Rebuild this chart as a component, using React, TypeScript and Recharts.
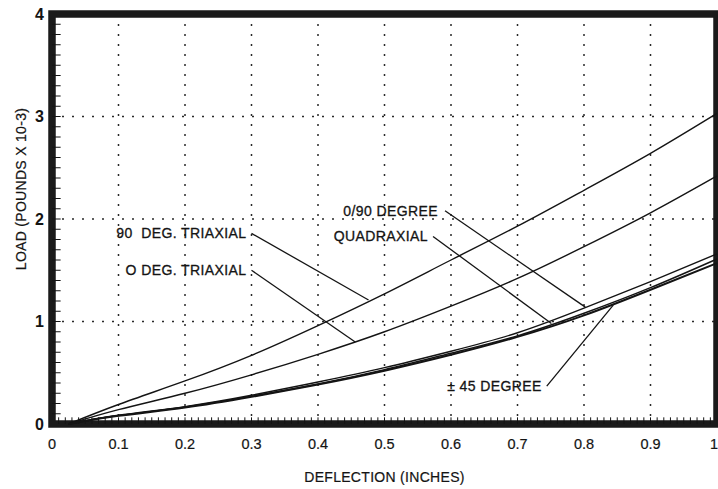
import React from 'react';
import {
  LineChart,
  Line,
  XAxis,
  YAxis,
  CartesianGrid,
  ReferenceArea,
  ReferenceLine,
  ReferenceDot,
} from 'recharts';

// Deflection (inches) at which each load reading is taken
const deflection = [0.025, 0.1, 0.2, 0.3, 0.4, 0.5, 0.6, 0.7, 0.8, 0.9, 1.0];

// Load (pounds x 10^-3) for each laminate
const triaxial90 = [0, 0.19, 0.42, 0.67, 0.96, 1.27, 1.6, 1.93, 2.28, 2.64, 3.03];
const triaxial0 = [0, 0.14, 0.3, 0.48, 0.68, 0.9, 1.15, 1.42, 1.73, 2.06, 2.42];
const degree090 = [0, 0.085, 0.17, 0.28, 0.41, 0.55, 0.71, 0.89, 1.13, 1.39, 1.66];
const quadraxial = [0, 0.082, 0.165, 0.27, 0.39, 0.53, 0.69, 0.86, 1.08, 1.33, 1.61];
const degree45 = [0, 0.08, 0.16, 0.265, 0.385, 0.52, 0.675, 0.85, 1.06, 1.31, 1.57];

const xTicks = [0, 0.1, 0.2, 0.3, 0.4, 0.5, 0.6, 0.7, 0.8, 0.9, 1];
const xTickLabels = ['0', '0.1', '0.2', '0.3', '0.4', '0.5', '0.6', '0.7', '0.8', '0.9', '1'];
const yTicks = [0, 1, 2, 3, 4];

// Small inward tick marks along the frame
const xMinorTicks = Array.from({ length: 99 }, (_, i) => (i + 1) / 100);
const yMinorTicks = Array.from({ length: 39 }, (_, i) => (i + 1) / 10);

// Curve labels: text anchor point (end of the leader) and the point on the curve
const annotations = [
  { text: '90\u00A0 DEG. TRIAXIAL', tx: 0.3, ty: 1.86, px: 0.476, py: 1.21, gap: 5 },
  { text: 'O DEG. TRIAXIAL', tx: 0.3, ty: 1.5, px: 0.456, py: 0.8, gap: 5 },
  { text: '0/90 DEGREE', tx: 0.591, ty: 2.08, px: 0.802, py: 1.14, gap: 7 },
  { text: 'QUADRAXIAL', tx: 0.573, ty: 1.83, px: 0.751, py: 0.98, gap: 5 },
  { text: '\u00B1 45 DEGREE', tx: 0.744, ty: 0.37, px: 0.844, py: 1.16, gap: 5 },
];

const rows = deflection.map((d, i) => ({
  x: d,
  t90: triaxial90[i],
  t0: triaxial0[i],
  d090: degree090[i],
  quad: quadraxial[i],
  d45: degree45[i],
}));

const FONT = '"Liberation Sans", Arial, Helvetica, sans-serif';
const INK = '#141414';

const AnnotationText = (props: any) => {
  const { viewBox, text, gap } = props;
  const x = viewBox.x + (viewBox.width || 0) / 2 - gap;
  const y = viewBox.y + (viewBox.height || 0) / 2;
  return (
    <text
      x={x}
      y={y}
      textAnchor="end"
      dominantBaseline="central"
      fontFamily={FONT}
      fontSize={14}
      letterSpacing={0.4}
      fill={INK}
      stroke={INK}
      strokeWidth={0.3}
    >
      {text}
    </text>
  );
};

const XTick = (props: any) => {
  const { x, y, payload } = props;
  const idx = xTicks.indexOf(payload.value);
  const label = idx >= 0 ? xTickLabels[idx] : String(payload.value);
  // keep the last label inside the canvas
  const shift = idx === xTicks.length - 1 ? -3 : 0;
  return (
    <text
      x={x + shift}
      y={y}
      dy="0.71em"
      textAnchor="middle"
      fontFamily={FONT}
      fontSize={14.5}
      fill={INK}
      stroke={INK}
      strokeWidth={0.2}
    >
      {label}
    </text>
  );
};

const YTitle = (props: any) => {
  const { viewBox } = props;
  const x = viewBox.x + 21;
  const y = viewBox.y + viewBox.height / 2 - 30;
  return (
    <text
      x={x}
      y={y}
      transform={`rotate(-90 ${x} ${y})`}
      textAnchor="middle"
      dominantBaseline="central"
      fontFamily={FONT}
      fontSize={14}
      letterSpacing={0.3}
      fill={INK}
      stroke={INK}
      strokeWidth={0.2}
    >
      LOAD (POUNDS X 10-3)
    </text>
  );
};

const XTitle = (props: any) => {
  const { viewBox } = props;
  const x = viewBox.x + viewBox.width / 2;
  const y = viewBox.y + 53;
  return (
    <text
      x={x}
      y={y}
      textAnchor="middle"
      dominantBaseline="central"
      fontFamily={FONT}
      fontSize={14}
      letterSpacing={0.3}
      fill={INK}
      stroke={INK}
      strokeWidth={0.2}
    >
      DEFLECTION (INCHES)
    </text>
  );
};

const seriesKeys = [
  { key: 't90', width: 1.4 },
  { key: 't0', width: 1.4 },
  { key: 'd090', width: 1.4 },
  { key: 'quad', width: 1.5 },
  { key: 'd45', width: 2 },
];

export default function App() {
  return (
    <div style={{ position: 'fixed', left: 0, top: 0, background: '#fff' }}>
      <LineChart
        width={718}
        height={489}
        data={rows}
        margin={{ top: 14, right: 1, bottom: 0, left: 0 }}
      >
        <CartesianGrid
          stroke="#2a2a2a"
          strokeWidth={1.5}
          strokeDasharray="2 8"
          horizontalValues={yTicks}
          verticalValues={xTicks}
        />
        <XAxis
          dataKey="x"
          type="number"
          domain={[0, 1]}
          ticks={xTicks}
          height={65}
          axisLine={false}
          tickLine={false}
          tickSize={0}
          tickMargin={15}
          interval={0}
          tick={<XTick />}
          label={<XTitle />}
        />
        <YAxis
          type="number"
          domain={[0, 4]}
          ticks={yTicks}
          width={52}
          axisLine={false}
          tickLine={false}
          tickSize={0}
          tickMargin={8}
          interval={0}
          tick={{ fontSize: 16, fontWeight: 700, fill: INK, fontFamily: FONT }}
          label={<YTitle />}
        />

        {xMinorTicks.map((v) => (
          <ReferenceLine
            key={`mx${v}`}
            segment={[
              { x: v, y: 0 },
              { x: v, y: 0.065 },
            ]}
            stroke={INK}
            strokeWidth={1}
            ifOverflow="visible"
          />
        ))}
        {yMinorTicks.map((v) => (
          <ReferenceLine
            key={`my${v}`}
            segment={[
              { x: 0, y: v },
              { x: 0.013, y: v },
            ]}
            stroke={INK}
            strokeWidth={1}
            ifOverflow="visible"
          />
        ))}

        {seriesKeys.map((s) => (
          <Line
            key={s.key}
            dataKey={s.key}
            type="natural"
            stroke={INK}
            strokeWidth={s.width}
            dot={false}
            activeDot={false}
            isAnimationActive={false}
          />
        ))}

        {annotations.map((a) => (
          <ReferenceLine
            key={`lead-${a.text}`}
            segment={[
              { x: a.tx, y: a.ty },
              { x: a.px, y: a.py },
            ]}
            stroke={INK}
            strokeWidth={1.3}
            ifOverflow="visible"
          />
        ))}
        {annotations.map((a) => (
          <ReferenceDot
            key={`lab-${a.text}`}
            x={a.tx}
            y={a.ty}
            r={0}
            fill="none"
            stroke="none"
            ifOverflow="visible"
            label={<AnnotationText text={a.text} gap={a.gap} />}
          />
        ))}

        <ReferenceArea
          x1={0}
          x2={1}
          y1={0}
          y2={4}
          fill="none"
          stroke="#1a1a1a"
          strokeWidth={7.5}
          ifOverflow="visible"
        />
      </LineChart>
    </div>
  );
}
